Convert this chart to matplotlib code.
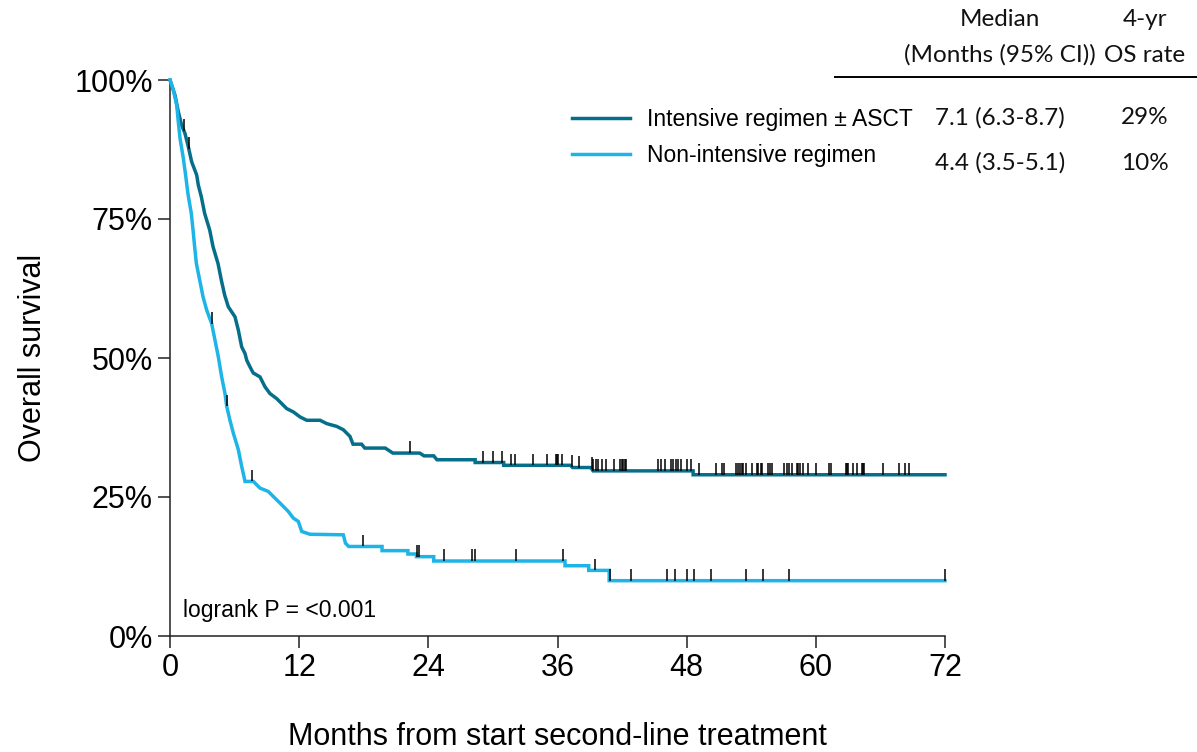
import numpy as np
import matplotlib
matplotlib.use("Agg")
import matplotlib.pyplot as plt
from matplotlib.lines import Line2D

# Survival curves as (months, survival) vertices; repeated months are vertical drops
intensive_time = [0, 0.46, 0.77, 1.08, 1.39, 1.70, 2.01, 2.48, 2.63, 2.91, 3.22, 3.69,
                  4.00, 4.46, 4.77, 5.08, 5.42, 6.04, 6.35, 6.66, 6.97, 7.13, 7.28,
                  7.59, 7.74, 8.36, 8.83, 9.29, 9.91, 10.38, 10.84, 11.46, 12.08,
                  12.70, 13.94, 14.56, 15.49, 16.10, 16.72, 16.90, 17.00, 17.80,
                  18.10, 20.00, 20.70, 23.20, 23.60, 24.50, 24.80, 28.35, 28.35,
                  31.00, 31.00, 37.20, 37.40, 39.10, 39.30, 48.60, 48.60, 72.0]
intensive_surv = [1.0, 0.973, 0.943, 0.919, 0.904, 0.880, 0.853, 0.829, 0.811, 0.790,
                  0.760, 0.730, 0.700, 0.670, 0.640, 0.613, 0.592, 0.574, 0.550,
                  0.520, 0.508, 0.496, 0.490, 0.478, 0.473, 0.466, 0.448, 0.436,
                  0.427, 0.418, 0.409, 0.403, 0.394, 0.388, 0.388, 0.382, 0.377,
                  0.371, 0.359, 0.350, 0.345, 0.345, 0.338, 0.338, 0.329, 0.329,
                  0.324, 0.324, 0.317, 0.317, 0.312, 0.312, 0.307, 0.307, 0.303,
                  0.303, 0.297, 0.297, 0.290, 0.290]
intensive_censor = [1.30, 1.75, 22.3, 29.05, 30.05, 30.88, 31.66, 32.03, 33.76, 35.0,
                    35.86, 35.98, 36.07, 36.39, 37.32, 37.97, 39.18, 39.33, 39.58,
                    39.79, 40.11, 40.51, 41.28, 41.81, 41.96, 42.11, 42.27, 42.36,
                    45.36, 45.59, 45.99, 46.52, 46.76, 46.98, 47.22, 47.47, 48.06,
                    48.40, 49.17, 50.72, 51.25, 51.49, 52.58, 52.80, 52.96, 53.11,
                    53.26, 53.48, 54.04, 54.51, 54.66, 54.88, 55.03, 55.58, 55.74,
                    55.96, 57.04, 57.29, 57.53, 57.81, 58.22, 58.37, 58.53, 58.78,
                    59.24, 59.99, 61.25, 61.38, 62.77, 62.87, 63.02, 63.43, 63.80,
                    64.26, 64.35, 64.47, 66.21, 67.75, 68.28, 68.68]

nonintensive_time = [0, 0.31, 0.62, 0.77, 0.93, 1.24, 1.45, 1.67, 1.98, 2.14, 2.29,
                     2.45, 2.76, 3.07, 3.41, 3.87, 4.18, 4.49, 4.80, 5.11, 5.27, 5.57,
                     5.88, 6.35, 6.66, 6.97, 7.74, 8.36, 9.13, 9.75, 10.38, 10.99,
                     11.46, 11.92, 12.24, 13.00, 16.10, 16.30, 16.60, 19.70, 19.70,
                     22.10, 22.10, 22.90, 22.90, 24.50, 24.50, 36.70, 36.70, 38.90,
                     38.90, 40.80, 40.80, 72.0]
nonintensive_surv = [1.0, 0.982, 0.955, 0.925, 0.895, 0.859, 0.829, 0.795, 0.760,
                     0.730, 0.700, 0.670, 0.640, 0.610, 0.586, 0.562, 0.532, 0.502,
                     0.466, 0.436, 0.413, 0.388, 0.365, 0.335, 0.305, 0.278, 0.278,
                     0.266, 0.260, 0.248, 0.236, 0.224, 0.212, 0.206, 0.188, 0.183,
                     0.182, 0.167, 0.161, 0.161, 0.1535, 0.1535, 0.1475, 0.1475,
                     0.1427, 0.1427, 0.1349, 0.1349, 0.1264, 0.1264, 0.1180, 0.1180,
                     0.0995, 0.0995]
nonintensive_censor = [3.87, 5.27, 7.65, 17.9, 22.98, 23.13, 25.46, 28.08, 28.33,
                       32.14, 36.54, 39.48, 40.85, 42.80, 46.14, 46.92, 48.0, 48.68,
                       50.26, 53.51, 55.12, 57.54, 72.0]

groups = ["Intensive regimen \u00b1 ASCT", "Non-intensive regimen"]
medians = ["7.1 (6.3-8.7)", "4.4 (3.5-5.1)"]
os_4yr = ["29%", "10%"]
x_ticks = [0, 12, 24, 36, 48, 60, 72]
y_ticks = [0, 0.25, 0.50, 0.75, 1.0]
y_ticklabels = ["0%", "25%", "50%", "75%", "100%"]

DARK = "#056F8B"
LIGHT = "#1DB4E8"

plt.rcParams["font.family"] = ["Liberation Sans", "DejaVu Sans"]

fig = plt.figure(figsize=(11.97, 7.52), dpi=100)
ax = fig.add_axes([170 / 1197, 1 - 636 / 752, 775 / 1197, 556 / 752])


def curve_value(times, surv, t):
    """Survival on the drawn curve at time t (value after a drop at that time)."""
    times = np.asarray(times)
    surv = np.asarray(surv)
    out = []
    for c in np.atleast_1d(t):
        i = np.searchsorted(times, c, side="right") - 1
        if i < len(times) - 1 and times[i + 1] > times[i]:
            f = (c - times[i]) / (times[i + 1] - times[i])
            out.append(surv[i] + f * (surv[i + 1] - surv[i]))
        else:
            out.append(surv[i])
    return np.array(out)


curves = [(intensive_time, intensive_surv, intensive_censor, DARK),
          (nonintensive_time, nonintensive_surv, nonintensive_censor, LIGHT)]
for times, surv, cens, col in curves:
    ax.plot(times, surv, color=col, lw=2.5, clip_on=False, zorder=3,
            solid_joinstyle="miter")
for times, surv, cens, col in curves:
    cs = curve_value(times, surv, cens)
    ax.vlines(cens, cs, cs + 0.021, color="black", lw=1.1, zorder=4, clip_on=False)

ax.set_xlim(0, 72)
ax.set_ylim(0, 1.0)
ax.set_xticks(x_ticks)
ax.set_yticks(y_ticks)
ax.set_yticklabels(y_ticklabels)
ax.tick_params(axis="both", direction="out", length=8.5, width=1.1, labelsize=22,
               pad=4, color="#222222")
for side in ("top", "right"):
    ax.spines[side].set_visible(False)
for side in ("left", "bottom"):
    ax.spines[side].set_linewidth(1.1)
    ax.spines[side].set_color("#222222")

ax.set_xlabel("Months from start second-line treatment", fontsize=22, labelpad=28)
ax.set_ylabel("Overall survival", fontsize=22, labelpad=19)

ax.text(1.2, 0.045, "logrank P = <0.001", fontsize=16.5, va="center", ha="left")

# Legend with the summary table beside it
handles = [Line2D([0], [0], color=DARK, lw=2.5), Line2D([0], [0], color=LIGHT, lw=2.5)]
fig.legend(handles, groups, loc="upper left", bbox_to_anchor=(572 / 1197, 1 - 108 / 752),
           frameon=False, fontsize=16.5, handlelength=2.55, handletextpad=0.72,
           labelspacing=0.55, borderpad=0, borderaxespad=0)

tfont = dict(family=["Lato", "DejaVu Sans"], fontsize=17.5, color="#111111")
fig.text(1000 / 1197, 1 - 20 / 752, "Median", ha="center", va="center", **tfont)
fig.text(1000 / 1197, 1 - 55 / 752, "(Months (95% CI))", ha="center", va="center", **tfont)
fig.text(1145 / 1197, 1 - 20 / 752, "4-yr", ha="center", va="center", **tfont)
fig.text(1145 / 1197, 1 - 55 / 752, "OS rate", ha="center", va="center", **tfont)
fig.add_artist(Line2D([835 / 1197, 1.0], [1 - 77 / 752, 1 - 77 / 752],
                      color="black", lw=1.4))
row_y = [118, 163]
for m, r, y in zip(medians, os_4yr, row_y):
    fig.text(1000 / 1197, 1 - y / 752, m, ha="center", va="center", **tfont)
    fig.text(1145 / 1197, 1 - y / 752, r, ha="center", va="center", **tfont)

fig.savefig("out.png", dpi=100)
